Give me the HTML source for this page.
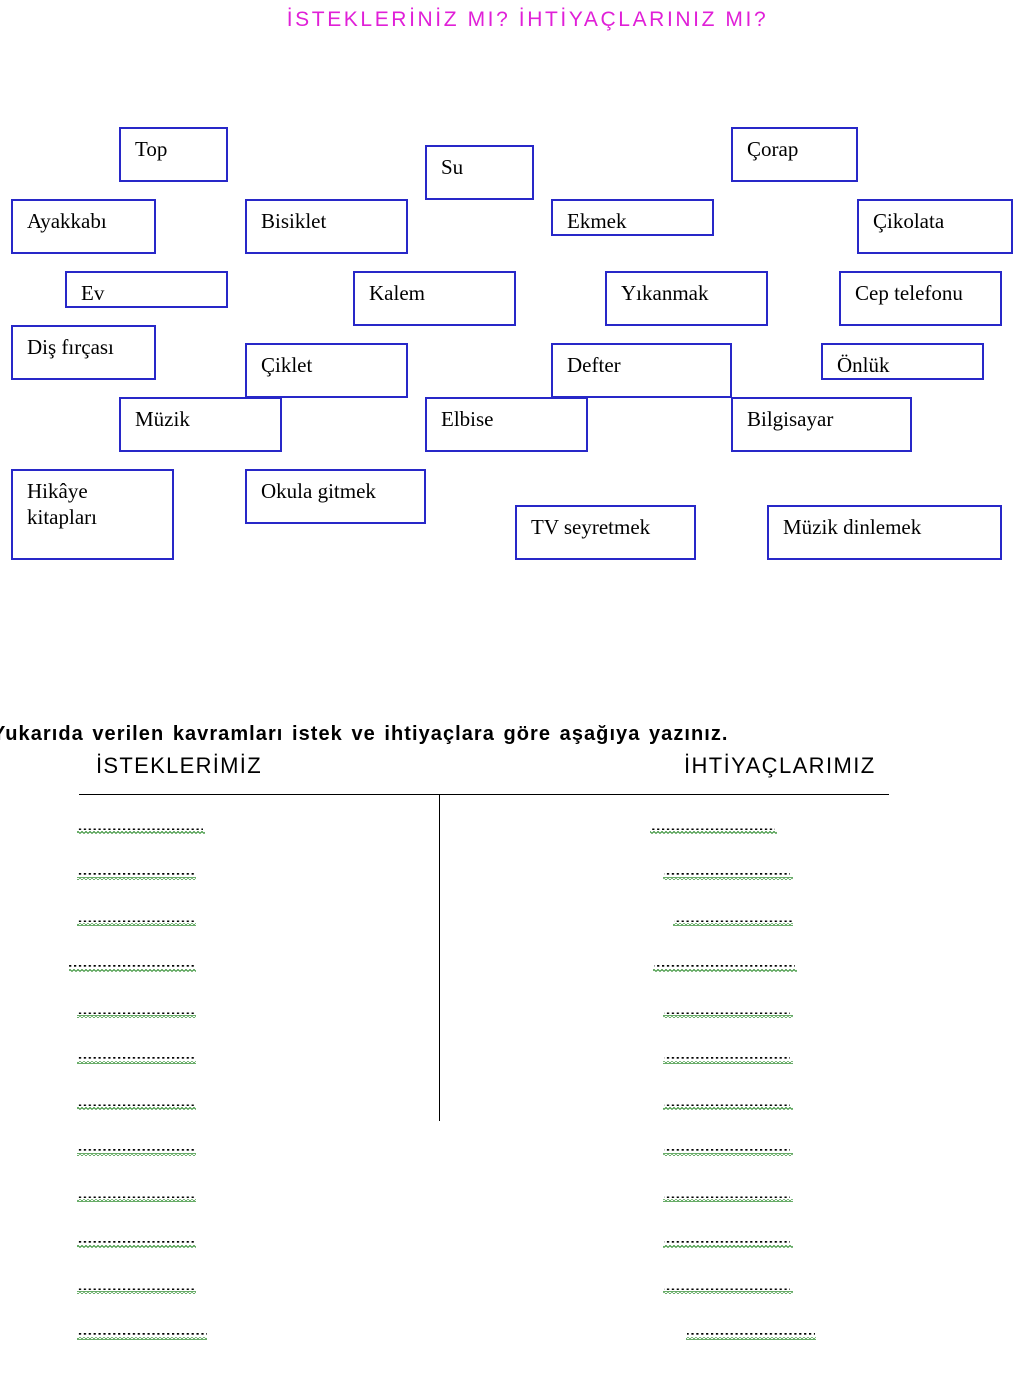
<!DOCTYPE html>
<html><head><meta charset="utf-8"><style>
body{margin:0;width:1031px;height:1373px;background:#fff;position:relative;overflow:hidden}
.b{position:absolute;box-sizing:border-box;border:2px solid #2828c8;font-family:"Liberation Serif",serif;font-size:21px;line-height:26px;padding:7px 0 0 14px;overflow:hidden;color:#000}
.t{position:absolute;white-space:nowrap}
</style></head><body>
<div class="t" style="left:0;width:1055px;top:8px;text-align:center;color:#e020d8;font-family:'Liberation Sans',sans-serif;font-size:21px;letter-spacing:2.6px">İSTEKLERİNİZ MI? İHTİYAÇLARINIZ MI?</div>

<div class="b" style="left:119px;top:127px;width:109px;height:55px">Top</div>
<div class="b" style="left:425px;top:145px;width:109px;height:55px">Su</div>
<div class="b" style="left:731px;top:127px;width:127px;height:55px">Çorap</div>
<div class="b" style="left:11px;top:199px;width:145px;height:55px">Ayakkabı</div>
<div class="b" style="left:245px;top:199px;width:163px;height:55px">Bisiklet</div>
<div class="b" style="left:551px;top:199px;width:163px;height:37px">Ekmek</div>
<div class="b" style="left:857px;top:199px;width:156px;height:55px">Çikolata</div>
<div class="b" style="left:65px;top:271px;width:163px;height:37px">Ev</div>
<div class="b" style="left:353px;top:271px;width:163px;height:55px">Kalem</div>
<div class="b" style="left:605px;top:271px;width:163px;height:55px">Yıkanmak</div>
<div class="b" style="left:839px;top:271px;width:163px;height:55px">Cep telefonu</div>
<div class="b" style="left:11px;top:325px;width:145px;height:55px">Diş fırçası</div>
<div class="b" style="left:245px;top:343px;width:163px;height:55px">Çiklet</div>
<div class="b" style="left:551px;top:343px;width:181px;height:55px">Defter</div>
<div class="b" style="left:821px;top:343px;width:163px;height:37px">Önlük</div>
<div class="b" style="left:119px;top:397px;width:163px;height:55px">Müzik</div>
<div class="b" style="left:425px;top:397px;width:163px;height:55px">Elbise</div>
<div class="b" style="left:731px;top:397px;width:181px;height:55px">Bilgisayar</div>
<div class="b" style="left:11px;top:469px;width:163px;height:91px">Hikâye<br>kitapları</div>
<div class="b" style="left:245px;top:469px;width:181px;height:55px">Okula gitmek</div>
<div class="b" style="left:515px;top:505px;width:181px;height:55px">TV seyretmek</div>
<div class="b" style="left:767px;top:505px;width:235px;height:55px">Müzik dinlemek</div>

<div class="t" style="left:-8px;top:723px;font-family:'Liberation Sans',sans-serif;font-size:20px;font-weight:bold;letter-spacing:1.05px;word-spacing:2px">Yukarıda verilen kavramları istek ve ihtiyaçlara göre aşağıya yazınız.</div>
<div class="t" style="left:96px;top:753px;font-family:'Liberation Sans',sans-serif;font-size:22px;letter-spacing:1.3px">İSTEKLERİMİZ</div>
<div class="t" style="left:684px;top:753px;font-family:'Liberation Sans',sans-serif;font-size:22px;letter-spacing:1.4px">İHTİYAÇLARIMIZ</div>

<svg width="1031" height="1373" style="position:absolute;left:0;top:0">
<defs>
<pattern id="d" width="4.9" height="4" patternUnits="userSpaceOnUse"><rect x="0.5" y="0.5" width="2.2" height="2.2" fill="#000"/></pattern>
<pattern id="w" width="4" height="3" patternUnits="userSpaceOnUse"><polyline points="0,2.5 2,0.5 4,2.5" fill="none" stroke="#2a8a2a" stroke-width="1"/></pattern>
</defs>
<line x1="79" y1="794.5" x2="889" y2="794.5" stroke="#000" stroke-width="1"/>
<line x1="439.5" y1="794" x2="439.5" y2="1121" stroke="#000" stroke-width="1"/>
<g>
<rect x="77" y="827" width="126" height="3" fill="url(#d)"/><rect x="77" y="831" width="128" height="3" fill="url(#w)"/>
<rect x="77" y="873" width="119" height="3" fill="url(#d)"/><rect x="77" y="877" width="119" height="3" fill="url(#w)"/>
<rect x="77" y="919" width="119" height="3" fill="url(#d)"/><rect x="77" y="923" width="119" height="3" fill="url(#w)"/>
<rect x="69" y="965" width="127" height="3" fill="url(#d)"/><rect x="69" y="969" width="127" height="3" fill="url(#w)"/>
<rect x="77" y="1011" width="119" height="3" fill="url(#d)"/><rect x="77" y="1015" width="119" height="3" fill="url(#w)"/>
<rect x="77" y="1057" width="119" height="3" fill="url(#d)"/><rect x="77" y="1061" width="119" height="3" fill="url(#w)"/>
<rect x="77" y="1103" width="119" height="3" fill="url(#d)"/><rect x="77" y="1107" width="119" height="3" fill="url(#w)"/>
<rect x="77" y="1149" width="119" height="3" fill="url(#d)"/><rect x="77" y="1153" width="119" height="3" fill="url(#w)"/>
<rect x="77" y="1195" width="119" height="3" fill="url(#d)"/><rect x="77" y="1199" width="119" height="3" fill="url(#w)"/>
<rect x="77" y="1241" width="119" height="3" fill="url(#d)"/><rect x="77" y="1245" width="119" height="3" fill="url(#w)"/>
<rect x="77" y="1287" width="119" height="3" fill="url(#d)"/><rect x="77" y="1291" width="119" height="3" fill="url(#w)"/>
<rect x="77" y="1333" width="130" height="3" fill="url(#d)"/><rect x="77" y="1337" width="130" height="3" fill="url(#w)"/>
</g>
<rect x="651" y="827" width="124" height="3" fill="url(#d)"/><rect x="650" y="831" width="127" height="3" fill="url(#w)"/>
<rect x="664" y="873" width="126" height="3" fill="url(#d)"/><rect x="663" y="877" width="130" height="3" fill="url(#w)"/>
<rect x="674" y="919" width="118" height="3" fill="url(#d)"/><rect x="673" y="923" width="120" height="3" fill="url(#w)"/>
<rect x="654" y="965" width="141" height="3" fill="url(#d)"/><rect x="653" y="969" width="144" height="3" fill="url(#w)"/>
<rect x="664" y="1011" width="126" height="3" fill="url(#d)"/><rect x="663" y="1015" width="130" height="3" fill="url(#w)"/>
<rect x="664" y="1057" width="126" height="3" fill="url(#d)"/><rect x="663" y="1061" width="130" height="3" fill="url(#w)"/>
<rect x="664" y="1103" width="126" height="3" fill="url(#d)"/><rect x="663" y="1107" width="130" height="3" fill="url(#w)"/>
<rect x="664" y="1149" width="126" height="3" fill="url(#d)"/><rect x="663" y="1153" width="130" height="3" fill="url(#w)"/>
<rect x="664" y="1195" width="126" height="3" fill="url(#d)"/><rect x="663" y="1199" width="130" height="3" fill="url(#w)"/>
<rect x="664" y="1241" width="126" height="3" fill="url(#d)"/><rect x="663" y="1245" width="130" height="3" fill="url(#w)"/>
<rect x="664" y="1287" width="126" height="3" fill="url(#d)"/><rect x="663" y="1291" width="130" height="3" fill="url(#w)"/>
<rect x="687" y="1333" width="128" height="3" fill="url(#d)"/><rect x="686" y="1337" width="130" height="3" fill="url(#w)"/>
</svg>
</body></html>
